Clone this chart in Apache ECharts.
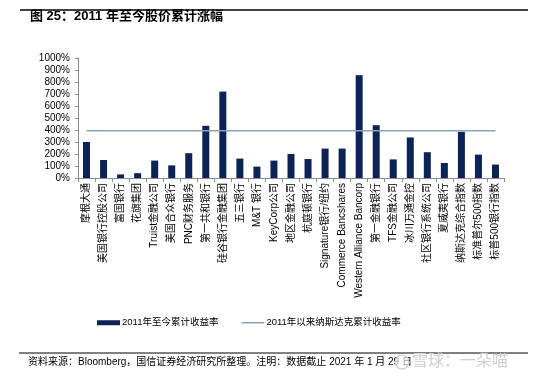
<!DOCTYPE html>
<html>
<head>
<meta charset="utf-8">
<script src="https://cdn.jsdelivr.net/npm/echarts@6/dist/echarts.min.js"></script>
<style>
  html, body { margin: 0; padding: 0; background: #fff; }
  #main { width: 554px; height: 375px; }
</style>
</head>
<body>
<div id="main"></div>
<script>
// categories (bottom axis, left to right)
const categories = [
  '摩根大通', '美国银行控股公司', '富国银行', '花旗集团', 'Truist金融公司',
  '美国合众银行', 'PNC财务服务', '第一共和银行', '硅谷银行金融集团', '五三银行',
  'M&T 银行', 'KeyCorp公司', '地区金融公司', '杭庭顿银行', 'Signature银行/纽约',
  'Commerce Bancshares', 'Western Alliance Bancorp', '第一金融银行', 'TFS金融公司', '冰川万通金控',
  '社区银行系统公司', '夏威夷银行', '纳斯达克综合指数', '标准普尔500指数', '标普500银行指数'
];
// cumulative return since 2011, %
const returns = [
  300, 150, 30, 40, 145,
  105, 207, 435, 720, 162,
  95, 145, 200, 158, 245,
  245, 857, 440, 155, 338,
  215, 125, 385, 195, 112
];
// Nasdaq cumulative return since 2011, %
const nasdaqReturn = 393;
const nasdaqLine = categories.map(() => nasdaqReturn);

const FONT = '"Liberation Sans", Arial, "Noto Sans CJK SC", sans-serif';

const chart = echarts.init(document.getElementById('main'), null, { renderer: 'canvas' });

const option = {
  backgroundColor: '#fff',
  animation: false,
  textStyle: { fontFamily: FONT, color: '#000' },
  grid: { left: 78, right: 50, top: 58, bottom: 197 },
  legend: {
    left: 92,
    top: 313,
    itemGap: 23,
    itemWidth: 23,
    itemHeight: 5,
    textStyle: { fontSize: 9.5, color: '#000', fontFamily: FONT, padding: [0, 0, 0, -3] },
    data: [
      { name: '2011年至今累计收益率', icon: 'rect' },
      { name: '2011年以来纳斯达克累计收益率', icon: 'path://M0,0 L46,0 L46,3 L0,3 Z' }
    ]
  },
  xAxis: {
    type: 'category',
    data: categories,
    axisLine: { lineStyle: { color: '#8c8c8c', width: 1 } },
    axisTick: { show: true, length: 4, alignWithLabel: false, lineStyle: { color: '#8c8c8c' } },
    axisLabel: {
      interval: 0,
      rotate: 90,
      margin: 5,
      fontSize: 10,
      color: '#000',
      fontFamily: FONT
    }
  },
  yAxis: {
    type: 'value',
    min: 0,
    max: 1000,
    interval: 100,
    axisLine: { show: true, lineStyle: { color: '#8c8c8c', width: 1 } },
    axisTick: { show: true, length: 3, lineStyle: { color: '#8c8c8c' } },
    splitLine: { show: false },
    axisLabel: {
      formatter: (v) => v + '%',
      fontSize: 10,
      margin: 8,
      color: '#000',
      fontFamily: FONT
    }
  },
  series: [
    {
      name: '2011年至今累计收益率',
      type: 'bar',
      data: returns,
      barWidth: 7,
      itemStyle: { color: '#0c2356' }
    },
    {
      name: '2011年以来纳斯达克累计收益率',
      type: 'line',
      data: nasdaqLine,
      symbol: 'none',
      lineStyle: { color: '#8fa3bd', width: 1.5 },
      itemStyle: { color: '#8fa3bd' },
      z: 3
    }
  ],
  graphic: [
    {
      type: 'line',
      shape: { x1: 20, y1: 10, x2: 528, y2: 10 },
      style: { stroke: '#000', lineWidth: 1.5 }
    },
    {
      type: 'text',
      left: 30,
      top: 10,
      style: {
        text: '图 25：2011 年至今股价累计涨幅',
        font: 'bold 13px "Liberation Sans", Arial, "Noto Sans CJK SC", sans-serif',
        fill: '#000'
      }
    },
    {
      type: 'line',
      shape: { x1: 19, y1: 353, x2: 528, y2: 353 },
      style: { stroke: '#000', lineWidth: 1 }
    },
    {
      type: 'text',
      left: 28,
      top: 357,
      style: {
        text: '资料来源：Bloomberg，国信证券经济研究所整理。注明：数据截止 2021 年 1 月 29 日',
        font: '10px "Liberation Sans", Arial, "Noto Sans CJK SC", sans-serif',
        fill: '#000'
      }
    },
    {
      type: 'circle',
      shape: { cx: 402, cy: 362, r: 7 },
      style: { fill: 'rgba(255,255,255,0.6)', stroke: '#c8c8c8', lineWidth: 1.2 }
    },
    {
      type: 'text',
      left: 412,
      top: 352,
      style: {
        text: '雪球：一朵喵',
        font: '16px "Noto Sans CJK SC", sans-serif',
        fill: '#cfcfcf'
      }
    }
  ]
};

chart.setOption(option);
</script>
</body>
</html>
